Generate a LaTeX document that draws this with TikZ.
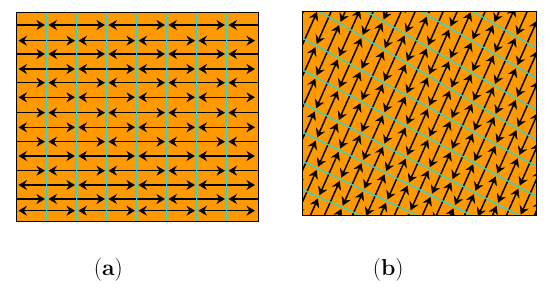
\documentclass[tikz,border=0pt]{standalone}
\usetikzlibrary{arrows.meta}
\definecolor{org}{RGB}{255,153,0}
\definecolor{cyn}{RGB}{40,215,215}
\def\CPX{{473,473,473,421.3,366.3,319.7,302.3,302.3,302.3,302.3,302.3,302.3,302.3,302.3}}
\def\CPY{{-48.5,-18.5,11.5,11.5,11.5,11.5,38,69.7,103,132,161.3,189.7,219.7,249.7}}
\def\CQX{{536,536,536,536,536,536,536,536,518,471.3,416.3,359.7,359.7,359.7}}
\def\CQY{{-12,18,48,78,109.7,139.7,166.3,196.3,215,215,215,215,245,275}}
\def\mm{0.4452}
\newcommand\cyanhit[2]{%
  \pgfmathsetmacro\tpx{\CPX[#1]}%
  \pgfmathsetmacro\tpy{\CPY[#1]}%
  \pgfmathsetmacro\tqx{\CQX[#1]}%
  \pgfmathsetmacro\tqy{\CQY[#1]}%
  \pgfmathsetmacro\ts{(\tqy-\tpy)/(\tqx-\tpx)}%
  \pgfmathsetmacro\tx{(\ai+\mm*(113-\tpy+\ts*\tpx))/(1+\mm*\ts)}%
  \pgfmathsetmacro\ty{\tpy+\ts*(\tx-\tpx)}%
  \coordinate (#2) at (\tx,\ty);}
\begin{document}
\begin{tikzpicture}[x=1pt,y=-1pt,
  tip/.tip={Stealth[length=8.5pt,width=10pt,inset=3pt,line width=0.5pt]},
  arr/.style={line width=1.5pt,black,tip-tip,shorten <=1.8pt,shorten >=1.8pt},
  cyanline/.style={cyn,line width=1.3pt},
  frame/.style={draw=black,line width=1pt},
  lab/.style={font=\fontsize{23}{26}\selectfont,inner sep=0pt}]
\useasboundingbox (0,0) rectangle (550,293);
% ---------- panel (a)
\fill[org] (16,12) rectangle (258,221);
\begin{scope}
  \clip (16,12) rectangle (258,221);
  \foreach \y [count=\r from 0] in {25,40.7,54,69,82.7,97.3,112.7,127.3,141.7,156,170.7,185,199,210.7} {
    \pgfmathtruncatemacro\p{mod(\r,2)}
    \foreach \j in {0,...,4} {
      \pgfmathsetmacro\xa{16.7-30*(1-\p)+60*\j}
      \draw[arr] (\xa,\y) -- (\xa+60,\y);
    }
  }
  \foreach \k in {0,...,6}
    \draw[cyanline] ({46.7+30*\k},12) -- ({46.7+30*\k},221);
\end{scope}
\draw[frame] (16,12) rectangle (258,221);
% ---------- panel (b)
\fill[org] (302.3,11.5) rectangle (536,215);
\begin{scope}
  \clip (302.3,11.5) rectangle (536,215);
  \foreach \i in {0,...,23} {
    \pgfmathsetmacro\ai{258+14*\i}
    \pgfmathtruncatemacro\p{mod(\i,2)}
    \foreach \j in {0,...,5} {
      \pgfmathtruncatemacro\ia{\p+2*\j}
      \pgfmathtruncatemacro\ib{\ia+2}
      \cyanhit{\ia}{A}
      \cyanhit{\ib}{B}
      \draw[arr] (A) -- (B);
    }
  }
  \foreach \k in {2,...,11}
    \draw[cyanline] ({\CPX[\k]},{\CPY[\k]}) -- ({\CQX[\k]},{\CQY[\k]});
\end{scope}
\draw[frame] (302.3,11.5) rectangle (536,215);
% ---------- labels
\node[lab] (la) at (108.3,270) {(\textbf{a})};
\node[lab] (lb) at (388.3,270) {(\textbf{b})};
\end{tikzpicture}
\end{document}
